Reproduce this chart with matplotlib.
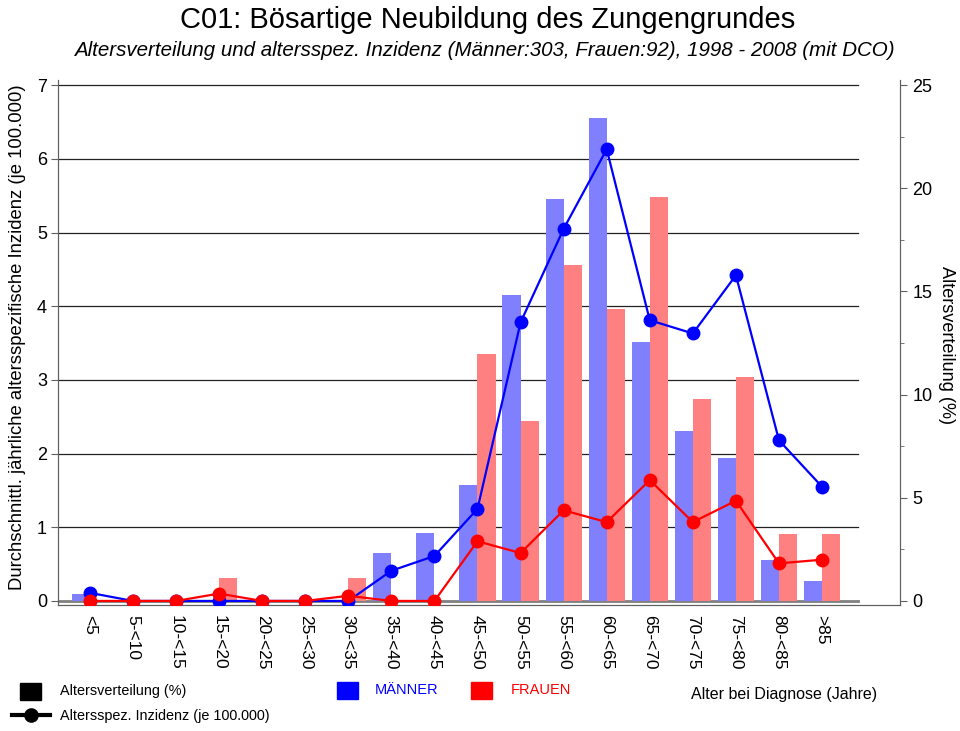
import numpy as np
import matplotlib
matplotlib.use("Agg")
import matplotlib.pyplot as plt
from matplotlib.patches import Rectangle
from matplotlib.lines import Line2D
from matplotlib.transforms import blended_transform_factory

plt.rcParams["font.family"] = ["Liberation Sans", "DejaVu Sans"]

# Age groups
age_groups = ["<5", "5-<10", "10-<15", "15-<20", "20-<25", "25-<30", "30-<35",
              "35-<40", "40-<45", "45-<50", "50-<55", "55-<60", "60-<65",
              "65-<70", "70-<75", "75-<80", "80-<85", ">85"]

# Altersverteilung (%) - bars (right axis)
dist_men = [0.33, 0, 0, 0, 0, 0, 0, 2.31, 3.30, 5.61, 14.85, 19.47, 23.43,
            12.54, 8.25, 6.93, 1.98, 0.99]
dist_women = [0, 0, 0, 1.09, 0, 0, 1.09, 0, 0, 11.96, 8.70, 16.30, 14.13,
              19.57, 9.78, 10.87, 3.26, 3.26]

# Altersspez. Inzidenz (je 100.000) - lines (left axis)
inc_men = [0.11, 0, 0, 0, 0, 0, 0, 0.41, 0.61, 1.25, 3.78, 5.05, 6.13,
           3.81, 3.63, 4.42, 2.18, 1.55]
inc_women = [0, 0, 0, 0.10, 0, 0, 0.07, 0, 0, 0.81, 0.65, 1.23, 1.07,
             1.64, 1.07, 1.36, 0.51, 0.56]

left_ticks = list(range(0, 8))
right_ticks = list(range(0, 30, 5))

W, H = 960, 731
fig = plt.figure(figsize=(9.6, 7.31), dpi=100)


def fx(x):
    return x / W


def fy(y):
    return 1 - y / H


ax = fig.add_axes([fx(58), fy(605), fx(900) - fx(58), fy(80) - fy(605)])
ax2 = ax.twinx()

x = np.arange(len(age_groups))
bw = 0.42
grey = "#606060"

# bars on the primary axes (percent scale, ticks on the right)
ax.bar(x - bw / 2, dist_men, width=bw, color="#8080FF", zorder=2)
ax.bar(x + bw / 2, dist_women, width=bw, color="#FF8080", zorder=2)

# lines on the twin axes (incidence scale, ticks on the left)
ax2.plot(x, inc_men, color="#0000FF", lw=1.6, marker="o", ms=9, zorder=3)
ax2.plot(x, inc_women, color="#FF0000", lw=1.6, marker="o", ms=9, zorder=3)

y_lo, y_hi = -0.055, 7.07
ax2.set_ylim(y_lo, y_hi)
ax.set_ylim(y_lo * 25 / 7, y_hi * 25 / 7)
ax.set_xlim(-0.74, len(age_groups) - 1 + 1.81)

# horizontal grid for the incidence scale, behind the bars
trans = blended_transform_factory(ax.transAxes, ax2.transData)
for t in left_ticks[1:]:
    ax.add_line(Line2D([0, 0.95], [t, t], transform=trans, color="#222222",
                       lw=0.9, zorder=1))
ax.add_line(Line2D([0, 0.95], [0, 0], transform=trans, color="#808080",
                   lw=2, zorder=1))

# axes styling
for a in (ax, ax2):
    a.spines["top"].set_visible(False)
    for s in ("left", "right", "bottom"):
        a.spines[s].set_color(grey)

ax.yaxis.tick_right()
ax.set_yticks(right_ticks)
ax.set_yticks(np.arange(2.5, 25, 5), minor=True)
ax.tick_params(axis="y", which="major", direction="out", length=5,
               color=grey, labelsize=13, pad=4)
ax.tick_params(axis="y", which="minor", direction="out", length=3, color=grey)

ax2.yaxis.tick_left()
ax2.set_yticks(left_ticks)
ax2.tick_params(axis="y", direction="out", length=5, color=grey,
                labelsize=13, pad=3)

ax.set_xticks(x)
ax.set_xticklabels(age_groups, rotation=270, fontsize=12.5, va="top",
                   ha="center")
ax.tick_params(axis="x", length=0, pad=7)

# titles
fig.text(fx(488), fy(20), "C01: Bösartige Neubildung des Zungengrundes",
         ha="center", va="center", fontsize=21)
fig.text(fx(484), fy(51),
         "Altersverteilung und altersspez. Inzidenz (Männer:303, Frauen:92), "
         "1998 - 2008 (mit DCO)",
         ha="center", va="center", fontsize=14.8, style="italic")

# axis labels
fig.text(fx(18), fy(337),
         "Durchschnittl. jährliche altersspezifische Inzidenz (je 100.000)",
         rotation=90, ha="center", va="center", fontsize=13.3)
fig.text(fx(946), fy(345), "Altersverteilung (%)", rotation=270,
         ha="center", va="center", fontsize=13.1)


# legend drawn at the bottom
def square(x0, y0, color):
    fig.add_artist(Rectangle((fx(x0), fy(y0 + 17)), fx(21), 17 / H,
                             transform=fig.transFigure, color=color))


square(20, 683, "black")
fig.text(fx(60), fy(691), "Altersverteilung (%)", va="center", fontsize=10.4)
fig.add_artist(Line2D([fx(12), fx(50)], [fy(715), fy(715)], color="black",
                      lw=3, transform=fig.transFigure))
fig.add_artist(Line2D([fx(31)], [fy(715)], color="black", marker="o", ms=9.5,
                      transform=fig.transFigure))
fig.text(fx(60), fy(716), "Altersspez. Inzidenz (je 100.000)", va="center",
         fontsize=10.4)
square(337, 682, "#0000FF")
fig.text(fx(375), fy(690), "MÄNNER", va="center", fontsize=10.5,
         color="#0000FF")
square(471, 682, "#FF0000")
fig.text(fx(511), fy(690), "FRAUEN", va="center", fontsize=10.5,
         color="#FF0000")
fig.text(fx(691), fy(694), "Alter bei Diagnose (Jahre)", va="center",
         fontsize=11.5)

fig.savefig("out.png", dpi=100)
